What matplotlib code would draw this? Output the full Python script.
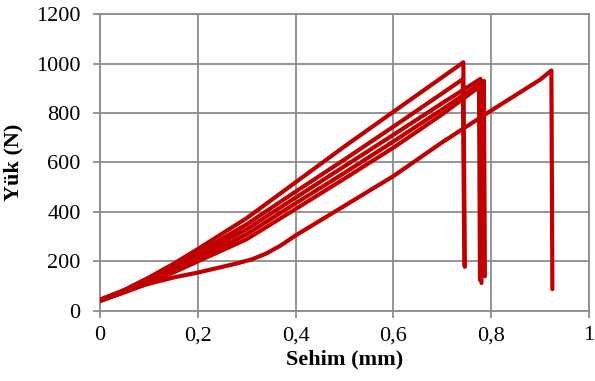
import numpy as np
import matplotlib
matplotlib.use("Agg")
import matplotlib.pyplot as plt

plt.rcParams['font.family'] = ['Liberation Serif', 'DejaVu Serif']

# deflection (mm) / load (N), one pair of lists per specimen
x1 = [0, 0.05, 0.1, 0.15, 0.2, 0.3, 0.4, 0.5, 0.6, 0.7, 0.743, 0.746]
y1 = [45, 85, 135, 190, 250, 375, 520, 665, 805, 945, 1005, 178]

x2 = [0, 0.05, 0.1, 0.15, 0.2, 0.3, 0.4, 0.5, 0.6, 0.7, 0.742, 0.745]
y2 = [45, 82, 125, 178, 235, 350, 482, 612, 745, 880, 937, 185]

x3 = [0, 0.05, 0.1, 0.15, 0.2, 0.3, 0.4, 0.5, 0.6, 0.7, 0.778, 0.78]
y3 = [40, 78, 120, 170, 225, 330, 458, 585, 712, 840, 938, 113]

x4 = [0, 0.05, 0.1, 0.15, 0.2, 0.3, 0.4, 0.5, 0.6, 0.7, 0.785, 0.787]
y4 = [40, 76, 115, 162, 210, 310, 435, 558, 685, 815, 930, 140]

x5 = [0, 0.05, 0.1, 0.15, 0.2, 0.3, 0.4, 0.5, 0.6, 0.7, 0.775, 0.777]
y5 = [42, 75, 112, 155, 200, 290, 412, 535, 660, 795, 905, 125]

x6 = [0, 0.05, 0.1, 0.15, 0.2, 0.25, 0.28, 0.31, 0.34, 0.37, 0.4, 0.5, 0.6, 0.7, 0.8, 0.9, 0.923, 0.925]
y6 = [45, 80, 110, 135, 155, 178, 192, 208, 232, 265, 305, 425, 545, 682, 810, 935, 972, 88]

series = [(x1, y1), (x2, y2), (x3, y3), (x4, y4), (x5, y5), (x6, y6)]

xticks = [0, 0.2, 0.4, 0.6, 0.8, 1]
xlabels = ['0', '0,2', '0,4', '0,6', '0,8', '1']
yticks = [0, 200, 400, 600, 800, 1000, 1200]

fig = plt.figure(figsize=(5.95, 3.81), dpi=100)
ax = fig.add_axes([0.168, 0.184, 0.822, 0.779])

for xs, ys in series:
    ax.plot(xs, ys, color='#C00000', lw=3, solid_joinstyle='round',
            solid_capstyle='round', zorder=3)

ax.set_xlim(0, 1)
ax.set_ylim(0, 1200)
ax.set_xticks(xticks)
ax.set_xticklabels(xlabels)
ax.set_yticks(yticks)

grey = '#8C8C8C'
ax.grid(True, color=grey, lw=1.3)
ax.set_axisbelow(True)
for s in ax.spines.values():
    s.set_color(grey)
    s.set_linewidth(1.3)
ax.tick_params(axis='both', colors=grey, length=5, width=1.3, labelsize=16,
               labelcolor='black')
ax.tick_params(axis='y', pad=9)
ax.tick_params(axis='x', pad=6)

ax.set_xlabel('Sehim (mm)', fontsize=16, fontweight='bold', labelpad=3)
ax.set_ylabel('Yük (N)', fontsize=16, fontweight='bold', labelpad=9)

fig.savefig('out.png', dpi=100)
